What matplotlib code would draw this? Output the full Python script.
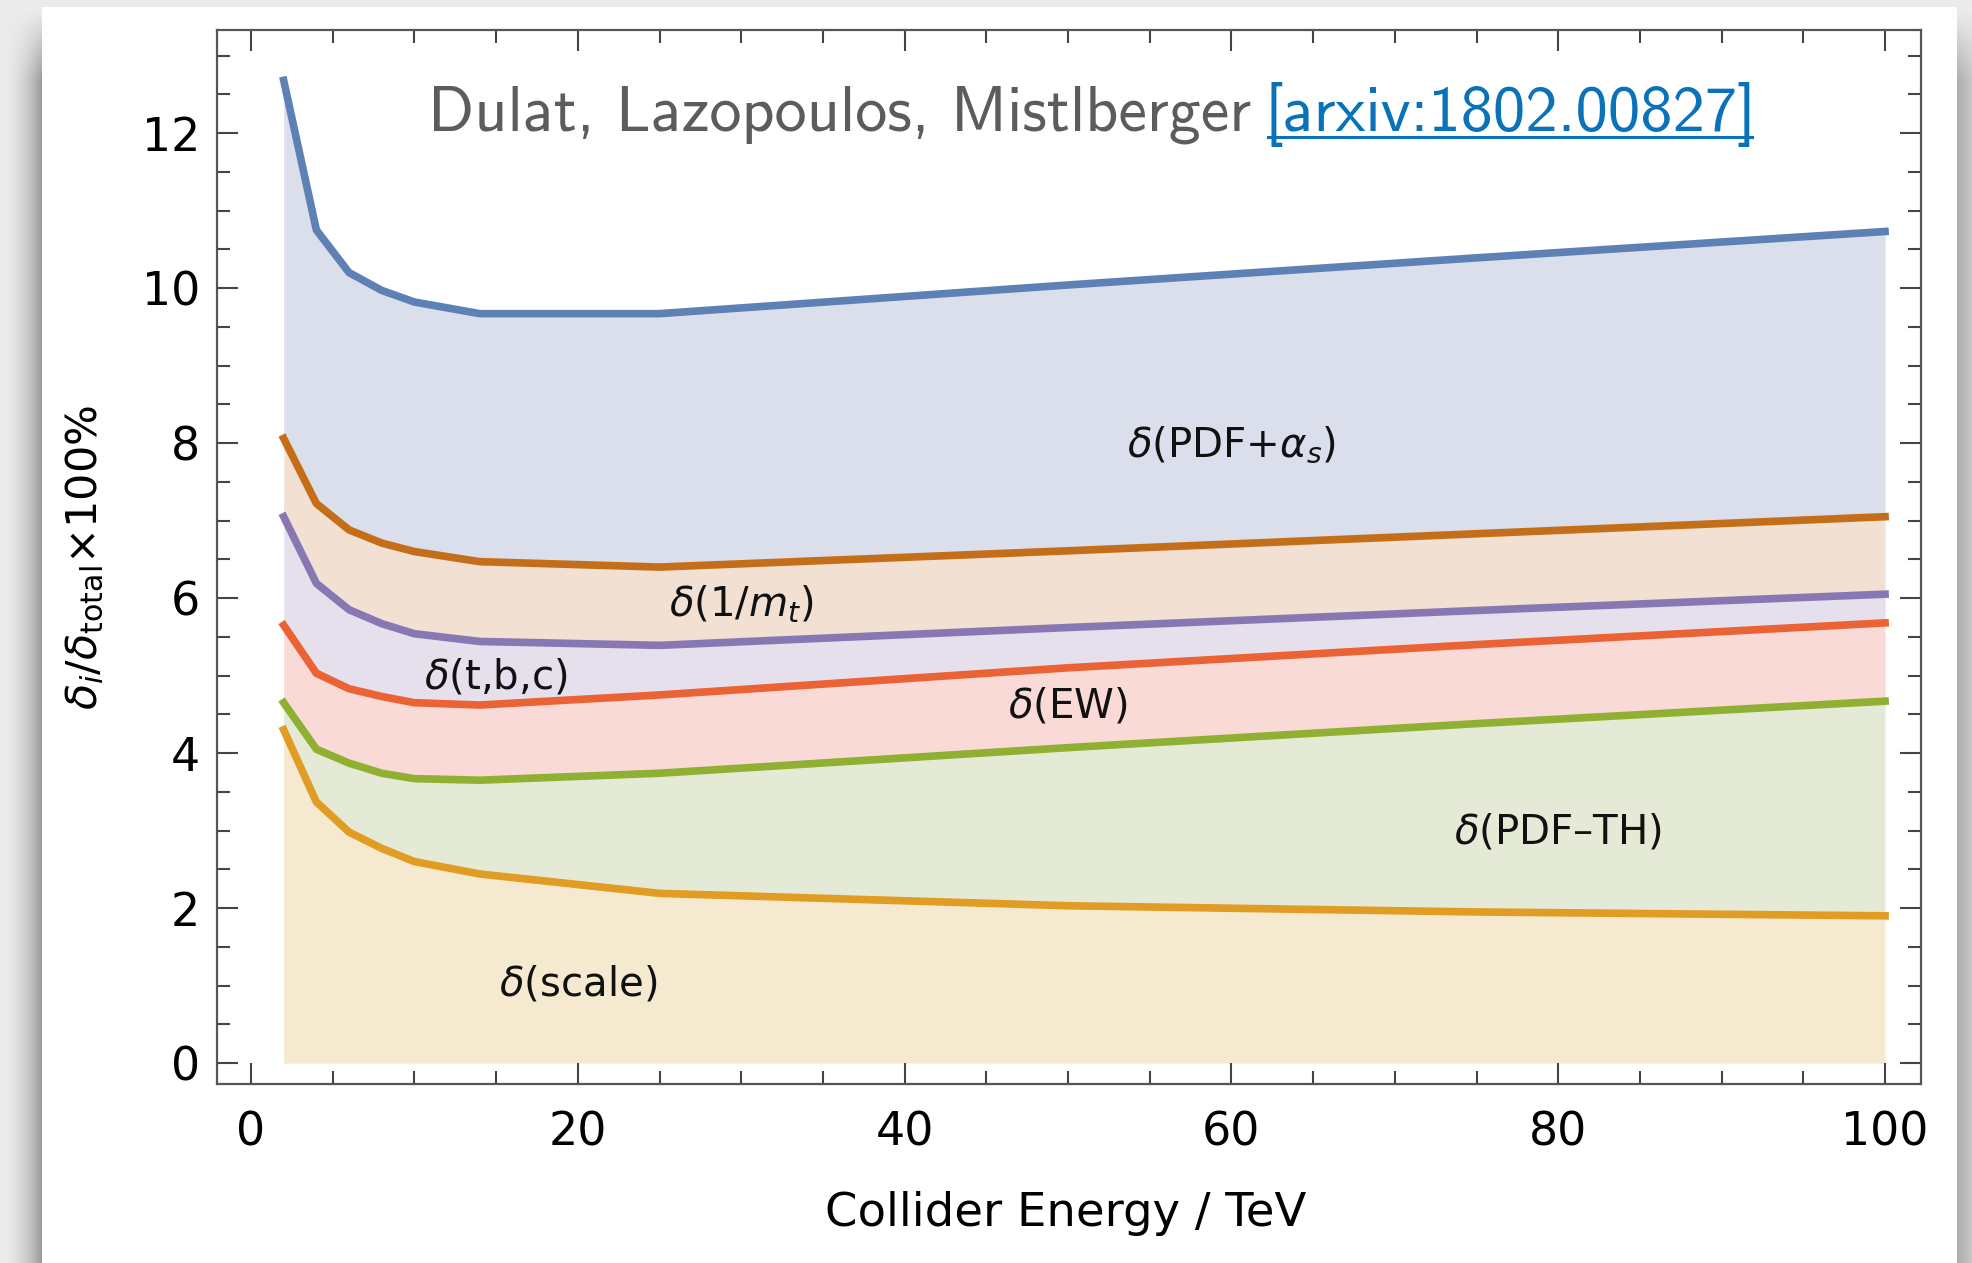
import numpy as np
import matplotlib
matplotlib.use('Agg')
import matplotlib.pyplot as plt
from matplotlib.ticker import MultipleLocator
from matplotlib.lines import Line2D

# ---------------- data (cumulative curve heights, %) ----------------
energy = [2, 4, 6, 8, 10, 14, 25, 50, 75, 100]
scale  = [4.30, 3.37, 2.98, 2.77, 2.60, 2.44, 2.19, 2.03, 1.95, 1.90]
pdf_th = [4.65, 4.05, 3.87, 3.74, 3.67, 3.65, 3.74, 4.07, 4.38, 4.67]
ew     = [5.65, 5.03, 4.83, 4.73, 4.65, 4.62, 4.75, 5.10, 5.40, 5.68]
tbc    = [7.05, 6.19, 5.85, 5.67, 5.54, 5.44, 5.39, 5.62, 5.84, 6.05]
inv_mt = [8.06, 7.22, 6.88, 6.71, 6.60, 6.47, 6.40, 6.61, 6.83, 7.05]
pdf_as = [12.68, 10.75, 10.20, 9.97, 9.82, 9.67, 9.67, 10.04, 10.39, 10.73]

region_labels = [r'$\delta$(scale)', r'$\delta$(PDF–TH)', r'$\delta$(EW)',
                 r'$\delta$(t,b,c)', r'$\delta$(1/$m_t$)', r'$\delta$(PDF+$\alpha_s$)']
x_ticks = [0, 20, 40, 60, 80, 100]
y_ticks = [0, 2, 4, 6, 8, 10, 12]

# ---------------- styles ----------------
line_colors = ['#E19C24', '#8FB032', '#EB6235', '#8778B3', '#C56E1A', '#5E81B5']
fill_colors = ['#F5EACF', '#E5EAD6', '#F9DAD6', '#E6E0EC', '#F2E0D2', '#DADFEB']
label_pos = [(20.0, 1.02), (80.0, 2.98), (50.0, 4.60), (15.0, 4.98), (30.0, 5.92), (60.0, 7.98)]

plt.rcParams['mathtext.fontset'] = 'dejavusans'
plt.rcParams['font.family'] = ['DejaVu Sans']

W, H = 1972, 1263
fig = plt.figure(figsize=(W / 100, H / 100), dpi=100)
fig.patch.set_facecolor('#ececec')

# background: grey slide area with page shadow and white page
img = np.full((H, W), 0.925)
xs = np.arange(W)[None, :]
ys = np.arange(H)[:, None]
fade = np.clip((ys - 10) / 70.0, 0, 1)
left = (xs < 42)
img = np.where(left, 0.925 - 0.33 * (xs / 42.0) ** 2 * fade, img)
right = (xs >= 1957)
img = np.where(right, 0.925 - (0.24 - 0.10 * (xs - 1957) / 15.0) * fade, img)
page = (xs >= 42) & (xs < 1957) & (ys >= 7)
img = np.where(page, 1.0, img)
rgb = np.dstack([img, img, img])
fig.figimage(rgb, xo=0, yo=0, origin='upper', zorder=-5)

ax = fig.add_axes([217 / W, 1 - 1084 / H, (1921 - 217) / W, (1084 - 30) / H])
ax.set_zorder(2)
ax.set_facecolor('white')

curves = [scale, pdf_th, ew, tbc, inv_mt, pdf_as]
lower = [0] * len(energy)
for c, fc in zip(curves, fill_colors):
    ax.fill_between(energy, lower, c, color=fc, lw=0, zorder=1)
    lower = c
for c, lc in zip(curves, line_colors):
    ax.plot(energy, c, color=lc, lw=5.5, solid_capstyle='projecting',
            solid_joinstyle='round', zorder=3)

for txt, (lx, ly) in zip(region_labels, label_pos):
    ax.text(lx, ly, txt, fontsize=29, ha='center', va='center', color='#111111', zorder=4)

ax.set_xlim(-2.08, 102.2)
ax.set_ylim(-0.27, 13.33)
ax.set_xticks(x_ticks)
ax.set_yticks(y_ticks)
ax.xaxis.set_minor_locator(MultipleLocator(5))
ax.yaxis.set_minor_locator(MultipleLocator(0.5))
ax.tick_params(which='both', direction='in', top=True, right=True, color='#444444', width=1.5)
ax.tick_params(which='major', length=15)
ax.tick_params(which='minor', length=9.5)
ax.tick_params(axis='x', which='major', labelsize=33, pad=19)
ax.tick_params(axis='y', which='major', labelsize=33, pad=12)
for s in ax.spines.values():
    s.set_color('#555555')
    s.set_linewidth(1.6)

fig.text(1066 / W, 1 - 1214 / H, 'Collider Energy / TeV', fontsize=33.5,
         ha='center', va='center', zorder=3)
fig.text(85 / W, 1 - 557 / H, r'$\delta_i/\delta_{\mathrm{total}}{\times}100\%$',
         fontsize=31, rotation=90, ha='center', va='center', zorder=3)

# title
base_y = 1 - 131 / H
t1 = fig.text(428 / W, base_y, 'Dulat, Lazopoulos, Mistlberger', family='cmss10',
              fontsize=46.2, color='#5c5c5c', ha='left', va='baseline', zorder=3)
t2 = fig.text(1756 / W, base_y, '[arxiv:1802.00827]', family='cmss10',
              fontsize=46.5, color='#0a72b8', ha='right', va='baseline', zorder=3)
fig.canvas.draw()
bb = t2.get_window_extent()
uy = (H - 137) / H
fig.add_artist(Line2D([bb.x0 / W + 0.002, bb.x1 / W - 0.002], [uy, uy],
                      transform=fig.transFigure, color='#0a72b8', lw=2.2, zorder=3))

fig.savefig('out.png', dpi=100)
